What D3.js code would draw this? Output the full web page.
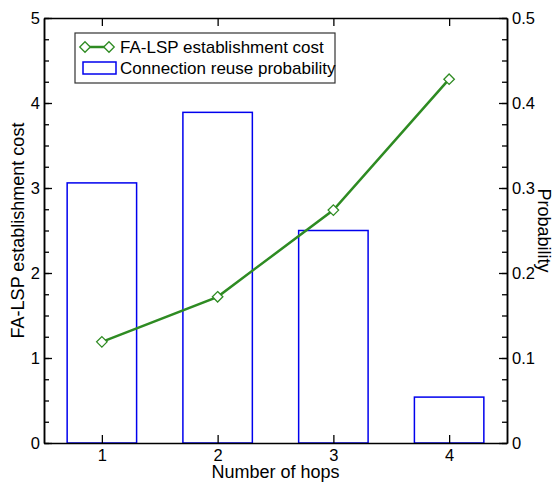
<!DOCTYPE html>
<html>
<head>
<meta charset="utf-8">
<script src="https://cdn.jsdelivr.net/npm/d3@7"></script>
<style>
  body { margin: 0; background: #fff; }
  svg text { font-family: "Liberation Sans", Arial, sans-serif; }
</style>
</head>
<body>
<div id="chart"></div>
<script>
// chart data
var hops = [1, 2, 3, 4];
var setupCost = [1.19, 1.72, 2.74, 4.28];
var reuseProb = [0.306, 0.389, 0.25, 0.054];
var leftTicks = [0, 1, 2, 3, 4, 5];
var rightTicks = [0, 0.1, 0.2, 0.3, 0.4, 0.5];
var seriesNames = ["FA-LSP establishment cost", "Connection reuse probability"];

var svgWidth = 556, svgHeight = 485;
var margin = {left: 44, right: 49, top: 18, bottom: 42};
var w = svgWidth - margin.left - margin.right;
var h = svgHeight - margin.top - margin.bottom;

var svg = d3.select("#chart").append("svg")
    .attr("width", svgWidth)
    .attr("height", svgHeight);
var g = svg.append("g").attr("transform", "translate(" + margin.left + "," + margin.top + ")");

var x = d3.scaleLinear().domain([0.5, 4.5]).range([0, w]);
var yL = d3.scaleLinear().domain([0, 5]).range([h, 0]);
var yR = d3.scaleLinear().domain([0, 0.5]).range([h, 0]);

// bars
g.selectAll("rect.bar")
    .data(reuseProb)
    .enter().append("rect")
    .attr("class", "bar")
    .attr("x", function(d, i) { return x(hops[i] - 0.3); })
    .attr("width", function(d, i) { return x(hops[i] + 0.3) - x(hops[i] - 0.3); })
    .attr("y", function(d) { return yR(d); })
    .attr("height", function(d) { return h - yR(d); })
    .attr("fill", "none")
    .attr("stroke", "#0000ee")
    .attr("stroke-width", 1.5);

// line
var line = d3.line()
    .x(function(d, i) { return x(hops[i]); })
    .y(function(d) { return yL(d); });
g.append("path")
    .datum(setupCost)
    .attr("d", line)
    .attr("fill", "none")
    .attr("stroke", "#2e8b22")
    .attr("stroke-width", 2.5);

var diamond = d3.symbol().type(d3.symbolDiamond2).size(70);
g.selectAll("path.pt")
    .data(setupCost)
    .enter().append("path")
    .attr("class", "pt")
    .attr("d", diamond)
    .attr("transform", function(d, i) { return "translate(" + x(hops[i]) + "," + yL(d) + ")"; })
    .attr("fill", "#fff")
    .attr("stroke", "#2e8b22")
    .attr("stroke-width", 1.3);

// axes (ticks point inward)
function minor(step, max) { return d3.range(0, max + 1e-9, step); }

g.append("g").attr("transform", "translate(0," + h + ")")
    .call(d3.axisBottom(x).tickValues(hops).tickFormat(d3.format("d")).tickSizeInner(-8).tickSizeOuter(0).tickPadding(6));
g.append("g")
    .call(d3.axisTop(x).tickValues(hops).tickFormat("").tickSizeInner(-8).tickSizeOuter(0));
g.append("g")
    .call(d3.axisLeft(yL).tickValues(minor(0.25, 5)).tickFormat("").tickSizeInner(-5).tickSizeOuter(0));
g.append("g")
    .call(d3.axisLeft(yL).tickValues(leftTicks).tickFormat(d3.format("d")).tickSizeInner(-8).tickSizeOuter(0).tickPadding(4));
g.append("g").attr("transform", "translate(" + w + ",0)")
    .call(d3.axisRight(yR).tickValues(minor(0.025, 0.5)).tickFormat("").tickSizeInner(-5).tickSizeOuter(0));
g.append("g").attr("transform", "translate(" + w + ",0)")
    .call(d3.axisRight(yR).tickValues(rightTicks).tickFormat(function(d) { return d === 0 ? "0" : d3.format(".1f")(d); })
        .tickSizeInner(-8).tickSizeOuter(0).tickPadding(5));

g.selectAll(".domain").attr("stroke", "#000").attr("stroke-width", 1.5);
g.selectAll(".tick line").attr("stroke", "#000").attr("stroke-width", 1.3);
g.selectAll(".tick text").attr("font-size", 16.5).attr("fill", "#000")
    .attr("font-family", "'Liberation Sans', Arial, sans-serif");

// axis titles
svg.append("text")
    .attr("x", margin.left + w / 2).attr("y", 478)
    .attr("text-anchor", "middle").attr("font-size", 18)
    .text("Number of hops");
svg.append("text")
    .attr("transform", "translate(24," + (margin.top + h / 2) + ") rotate(-90)")
    .attr("text-anchor", "middle").attr("font-size", 18)
    .text("FA-LSP establishment cost");
svg.append("text")
    .attr("transform", "translate(538," + (margin.top + h / 2) + ") rotate(90)")
    .attr("text-anchor", "middle").attr("font-size", 18)
    .text("Probability");

// legend
var lg = svg.append("g").attr("transform", "translate(75,33)");
lg.append("rect").attr("width", 260).attr("height", 50)
    .attr("fill", "#fff").attr("stroke", "#333").attr("stroke-width", 1.2);
lg.append("line").attr("x1", 10).attr("x2", 34).attr("y1", 14).attr("y2", 14)
    .attr("stroke", "#2e8b22").attr("stroke-width", 2.5);
[10, 34].forEach(function(px) {
    lg.append("path").attr("d", diamond)
        .attr("transform", "translate(" + px + ",14)")
        .attr("fill", "#fff").attr("stroke", "#2e8b22").attr("stroke-width", 1.3);
});
lg.append("rect").attr("x", 8).attr("y", 29).attr("width", 33).attr("height", 12)
    .attr("fill", "none").attr("stroke", "#0000ee").attr("stroke-width", 1.5);
lg.selectAll("text.lbl")
    .data(seriesNames)
    .enter().append("text")
    .attr("x", 45)
    .attr("y", function(d, i) { return 20 + i * 21; })
    .attr("font-size", 17)
    .text(function(d) { return d; });
</script>
</body>
</html>
